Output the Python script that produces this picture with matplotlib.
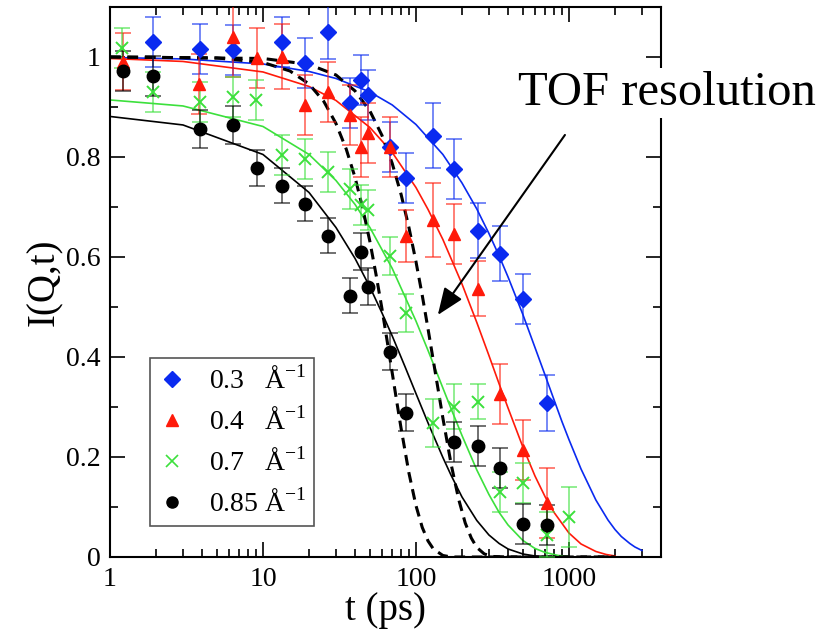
import matplotlib
matplotlib.use("Agg")
import matplotlib.pyplot as plt
from matplotlib.lines import Line2D
from matplotlib.ticker import LogLocator, MultipleLocator, FuncFormatter, NullFormatter

plt.rcParams['font.family'] = ['Liberation Serif', 'DejaVu Serif']
plt.rcParams['mathtext.fontset'] = 'custom'
plt.rcParams['mathtext.rm'] = 'Liberation Serif'

# measured points, Q = 0.3 / 0.4 / 0.7 / 0.85 1/A
t_03 = [1.9, 3.9, 6.4, 13.3, 18.7, 26.6, 37, 43.7, 48.6, 67.6, 86, 129, 177, 254, 354, 501, 718]
I_03 = [1.03, 1.016, 1.014, 1.03, 0.988, 1.05, 0.908, 0.954, 0.924, 0.82, 0.758, 0.842, 0.776, 0.652, 0.606, 0.516, 0.308]
e_03 = [0.05, 0.05, 0.05, 0.05, 0.05, 0.055, 0.05, 0.05, 0.05, 0.05, 0.05, 0.065, 0.06, 0.055, 0.055, 0.05, 0.056]

t_04 = [1.22, 3.8, 6.4, 9.1, 13.3, 18.7, 26.6, 37, 43.7, 48.6, 67.6, 86, 129, 177, 254, 354, 501, 718]
I_04 = [0.99, 0.946, 1.04, 0.998, 1.0, 0.904, 0.93, 0.884, 0.82, 0.848, 0.82, 0.642, 0.674, 0.646, 0.536, 0.326, 0.214, 0.108]
e_04 = [0.057, 0.06, 0.08, 0.06, 0.065, 0.06, 0.06, 0.06, 0.06, 0.06, 0.06, 0.052, 0.074, 0.06, 0.055, 0.06, 0.06, 0.07]

t_07 = [1.2, 1.9, 3.9, 6.4, 9.0, 13.3, 18.7, 26.6, 37, 43.7, 48.6, 67.6, 86, 129, 177, 254, 354, 501, 718, 1000]
I_07 = [1.018, 0.93, 0.91, 0.92, 0.914, 0.804, 0.796, 0.77, 0.736, 0.704, 0.694, 0.602, 0.488, 0.268, 0.30, 0.31, 0.13, 0.148, 0.044, 0.08]
e_07 = [0.04, 0.04, 0.04, 0.04, 0.04, 0.04, 0.04, 0.04, 0.04, 0.04, 0.04, 0.038, 0.038, 0.048, 0.045, 0.035, 0.04, 0.04, 0.045, 0.06]

t_085 = [1.22, 1.9, 3.9, 6.4, 9.1, 13.3, 18.7, 26.6, 37, 43.7, 48.6, 67.6, 86, 177, 254, 354, 501, 718]
I_085 = [0.972, 0.962, 0.856, 0.864, 0.778, 0.742, 0.706, 0.642, 0.522, 0.61, 0.54, 0.41, 0.288, 0.23, 0.222, 0.178, 0.066, 0.064]
e_085 = [0.04, 0.04, 0.038, 0.038, 0.036, 0.035, 0.035, 0.035, 0.035, 0.037, 0.037, 0.037, 0.037, 0.04, 0.04, 0.04, 0.04, 0.04]

# fitted curves
tf_03 = [1, 3, 10, 20, 30, 50, 70, 100, 150, 200, 250, 300, 350, 400, 500, 600, 700, 800, 900,
         1000, 1200, 1500, 1800, 2000, 2200, 2500, 2700, 3000]
If_03 = [0.999, 0.996, 0.986, 0.971, 0.957, 0.930, 0.904, 0.865, 0.805, 0.748, 0.696, 0.647, 0.602,
         0.560, 0.485, 0.419, 0.363, 0.314, 0.271, 0.235, 0.176, 0.114, 0.074, 0.055, 0.041, 0.027,
         0.020, 0.013]
tf_04 = [1, 3, 10, 20, 30, 50, 70, 100, 120, 150, 200, 250, 300, 350, 400, 500, 600, 700, 800,
         1000, 1200, 1500, 1750, 2000]
If_04 = [0.997, 0.991, 0.970, 0.941, 0.913, 0.859, 0.809, 0.739, 0.695, 0.635, 0.546, 0.469, 0.403,
         0.346, 0.298, 0.220, 0.162, 0.120, 0.089, 0.048, 0.026, 0.011, 0.005, 0.002]
tf_07 = [1, 3, 10, 20, 30, 40, 50, 70, 100, 120, 150, 170, 200, 250, 300, 350, 400, 500, 600, 700,
         850, 1000]
If_07 = [0.914, 0.902, 0.861, 0.805, 0.753, 0.705, 0.659, 0.577, 0.472, 0.413, 0.338, 0.296, 0.243,
         0.174, 0.125, 0.089, 0.064, 0.033, 0.017, 0.009, 0.003, 0.001]
tf_085 = [1, 3, 10, 20, 30, 40, 50, 60, 70, 85, 100, 120, 150, 170, 200, 250, 300, 350, 400, 500,
          600, 700]
If_085 = [0.881, 0.864, 0.805, 0.729, 0.659, 0.597, 0.540, 0.488, 0.442, 0.380, 0.327, 0.268, 0.199,
          0.163, 0.120, 0.073, 0.044, 0.027, 0.016, 0.006, 0.002, 0.001]

# TOF resolution curves (dashed)
tr_a = [1, 5, 10, 15, 20, 25, 30, 35, 40, 45, 50, 55, 60, 65, 70, 75, 80, 90, 100, 110, 120, 130,
        150, 170, 200, 2000]
Ir_a = [1.0, 0.998, 0.989, 0.972, 0.946, 0.911, 0.867, 0.816, 0.759, 0.696, 0.631, 0.563, 0.496,
        0.430, 0.368, 0.310, 0.257, 0.168, 0.103, 0.059, 0.032, 0.016, 0.003, 0.0, 0.0, 0.0]
tr_b = [1, 10, 20, 30, 40, 50, 60, 70, 80, 90, 100, 110, 120, 134, 150, 170, 190, 210, 230, 250,
        280, 320, 400, 2000]
Ir_b = [1.0, 0.997, 0.985, 0.964, 0.932, 0.892, 0.843, 0.787, 0.725, 0.659, 0.591, 0.523, 0.456,
        0.368, 0.278, 0.185, 0.116, 0.068, 0.038, 0.019, 0.006, 0.001, 0.0, 0.0]

labels = [r'0.3   Å$^{-1}$', r'0.4   Å$^{-1}$', r'0.7   Å$^{-1}$', r'0.85 Å$^{-1}$']
colors = ['#0a2af0', '#ff1a0a', '#3ce03c', 'black']
markers = ['D', '^', 'x', 'o']

fig = plt.figure(figsize=(8.3, 6.32), dpi=100)
ax = fig.add_axes([0.1325, 0.1187, 0.6639, 0.8703])

series = [(t_03, I_03, e_03), (t_04, I_04, e_04), (t_07, I_07, e_07), (t_085, I_085, e_085)]
fits = [(tf_03, If_03), (tf_04, If_04), (tf_07, If_07), (tf_085, If_085)]

for (tf, If), c in zip(fits, colors):
    ax.plot(tf, If, color=c, lw=1.2, zorder=2)

ax.plot(tr_a, Ir_a, color='black', lw=2.2, dashes=(3.5, 2.2), zorder=2)
ax.plot(tr_b, Ir_b, color='black', lw=2.2, dashes=(3.5, 2.2), zorder=2)

for (t, I, e), c, m in zip(series, colors, markers):
    ax.errorbar(t, I, yerr=e, fmt='none', ecolor=c, alpha=0.6, elinewidth=1.3,
                capsize=6, capthick=1.3, zorder=3)
    if m == 'x':
        ax.plot(t, I, ls='none', marker=m, color=c, ms=9, mew=1.4, zorder=4)
    else:
        ms = 8 if m != 'o' else 9
        ax.plot(t, I, ls='none', marker=m, color=c, mec=c, ms=ms, zorder=4)

ax.set_xscale('log')
ax.set_xlim(1, 4000)
ax.set_ylim(0, 1.1)
ax.xaxis.set_major_locator(LogLocator(base=10, numticks=10))
ax.xaxis.set_minor_locator(LogLocator(base=10, subs=range(2, 10), numticks=20))
ax.xaxis.set_major_formatter(FuncFormatter(lambda v, p: '%g' % v))
ax.xaxis.set_minor_formatter(NullFormatter())
ax.yaxis.set_major_locator(MultipleLocator(0.2))
ax.yaxis.set_minor_locator(MultipleLocator(0.1))
ax.yaxis.set_major_formatter(FuncFormatter(lambda v, p: '%g' % round(v, 2)))

ax.tick_params(which='both', direction='in', top=True, right=True, width=1.2, labelsize=20)
ax.tick_params(which='major', length=11, pad=7)
ax.tick_params(which='minor', length=5.5)
for s in ax.spines.values():
    s.set_linewidth(1.5)

ax.set_xlabel('t (ps)', fontsize=28, labelpad=0)
ax.set_ylabel('I(Q,t)', fontsize=28, labelpad=2)

handles = []
for c, m in zip(colors, markers):
    if m == 'x':
        handles.append(Line2D([], [], ls='none', marker=m, color=c, ms=9, mew=1.2))
    else:
        handles.append(Line2D([], [], ls='none', marker=m, color=c, ms=8))
leg = ax.legend(handles, labels, loc='lower left', bbox_to_anchor=(0.073, 0.056),
                fontsize=20, frameon=True, fancybox=False, framealpha=1,
                edgecolor='#555555', handlelength=1.0, handletextpad=0.8,
                labelspacing=0.45, borderpad=0.3, borderaxespad=0)
leg.get_frame().set_linewidth(1.2)

ax.annotate('', xy=(139, 0.484), xytext=(942, 0.844),
            arrowprops=dict(arrowstyle='-|>,head_length=0.55,head_width=0.22',
                            color='black', lw=1.5, mutation_scale=30, shrinkA=0, shrinkB=0))

fig.text(0.804, 0.834, 'TOF resolution', fontsize=35, ha='center', va='baseline',
         bbox=dict(fc='white', ec='none', pad=2))

fig.savefig('out.png', dpi=100)
